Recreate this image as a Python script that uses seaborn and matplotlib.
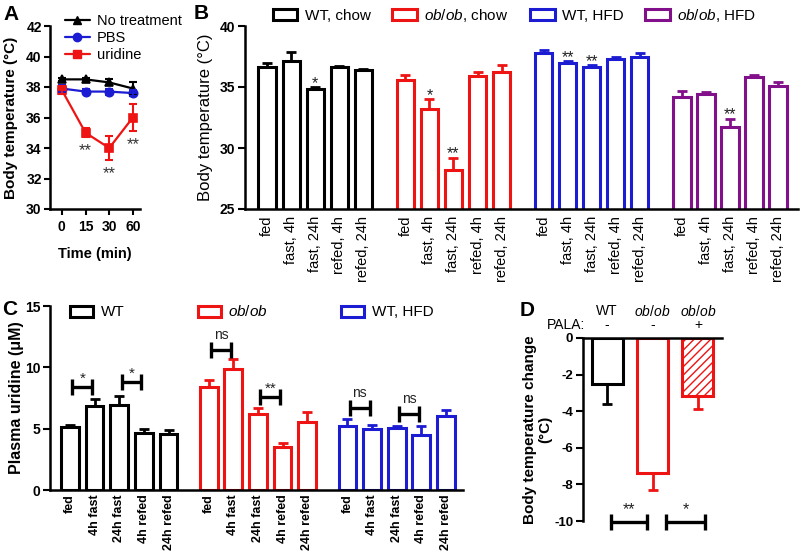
import numpy as np
import pandas as pd
import matplotlib
matplotlib.use("Agg")
import matplotlib.pyplot as plt
from matplotlib.patches import Patch
from matplotlib.lines import Line2D
import seaborn as sns

sns.set_theme(style="ticks")
plt.rcParams.update({
    "font.family": ["Liberation Sans", "DejaVu Sans"],
    "mathtext.fontset": "custom",
    "mathtext.rm": "Liberation Sans",
    "mathtext.it": "Liberation Sans:italic",
    "mathtext.bf": "Liberation Sans:bold",
    "axes.linewidth": 1.8,
    "axes.edgecolor": "black",
    "xtick.color": "black",
    "ytick.color": "black",
    "text.color": "black",
    "axes.labelcolor": "black",
    "hatch.linewidth": 1.0,
})

# Panel A: body temperature after injection
a_times = ["0", "15", "30", "60"]
a_groups = ["No treatment", "PBS", "uridine"]
a_no_treat = [38.5, 38.5, 38.3, 37.9]
a_no_treat_err = [0.1, 0.1, 0.2, 0.4]
a_pbs = [37.9, 37.7, 37.7, 37.6]
a_pbs_err = [0.2, 0.15, 0.2, 0.2]
a_uridine = [37.8, 35.0, 34.0, 36.0]
a_uridine_err = [0.25, 0.3, 0.8, 0.9]
a_stars = ["", "**", "**", "**"]

# Panel B: body temperature, fasting / refeeding
b_conditions = ["fed", "fast, 4h", "fast, 24h", "refed, 4h", "refed, 24h"]
b_groups = ["WT, chow", r"$\mathit{ob/ob}$, chow", "WT, HFD", r"$\mathit{ob/ob}$, HFD"]
b_wt_chow = [36.65, 37.1, 34.8, 36.6, 36.4]
b_wt_chow_err = [0.33, 0.77, 0.17, 0.1, 0.1]
b_ob_chow = [35.6, 33.2, 28.2, 35.9, 36.2]
b_ob_chow_err = [0.4, 0.8, 1.0, 0.35, 0.6]
b_wt_hfd = [37.8, 36.95, 36.6, 37.3, 37.5]
b_wt_hfd_err = [0.2, 0.15, 0.2, 0.2, 0.3]
b_ob_hfd = [34.15, 34.4, 31.75, 35.8, 35.1]
b_ob_hfd_err = [0.55, 0.2, 0.65, 0.15, 0.3]
b_stars = [["", "", "*", "", ""],
           ["", "*", "**", "", ""],
           ["", "**", "**", "", ""],
           ["", "", "**", "", ""]]

# Panel C: plasma uridine
c_conditions = ["fed", "4h fast", "24h fast", "4h refed", "24h refed"]
c_groups = ["WT", r"$\mathit{ob/ob}$", "WT, HFD"]
c_wt = [5.1, 6.85, 6.93, 4.67, 4.54]
c_wt_err = [0.2, 0.55, 0.73, 0.33, 0.36]
c_ob = [8.37, 9.9, 6.2, 3.5, 5.54]
c_ob_err = [0.63, 0.75, 0.5, 0.36, 0.82]
c_hfd = [5.2, 4.97, 5.05, 4.46, 6.03]
c_hfd_err = [0.56, 0.33, 0.15, 0.74, 0.47]

# Panel D: body temperature change with PALA
d_strain = ["WT", r"$\mathit{ob/ob}$", r"$\mathit{ob/ob}$"]
d_pala = ["-", "-", "+"]
d_change = [-2.5, -7.36, -3.18]
d_err = [1.09, 0.94, 0.72]

BLACK = "black"
RED = "#ee1414"
BLUE = "#1c1cd2"
PURPLE = "#82108a"

fig = plt.figure(figsize=(8, 5.6), dpi=100)


def px_axes(left, top, right, bottom):
    return fig.add_axes([left / 800, 1 - bottom / 560,
                         (right - left) / 800, (bottom - top) / 560])


def bracket(ax, x0, x1, y, half, label, dy, lw=2.2, size=11):
    ax.plot([x0, x0], [y - half, y + half], color="black", lw=lw, clip_on=False, solid_capstyle="butt")
    ax.plot([x1, x1], [y - half, y + half], color="black", lw=lw, clip_on=False, solid_capstyle="butt")
    ax.plot([x0, x1], [y, y], color="black", lw=lw, clip_on=False, solid_capstyle="butt")
    ax.annotate(label, ((x0 + x1) / 2, y + half), xytext=(0, dy), textcoords="offset points",
                ha="center", va="baseline", fontsize=size, color="#222222", annotation_clip=False)


# ---------------- A ----------------
ax_a = px_axes(50, 26, 140, 209)
a_colors = [BLACK, BLUE, RED]
df_a = pd.DataFrame({
    "time": a_times * 3,
    "temp": a_no_treat + a_pbs + a_uridine,
    "group": np.repeat(a_groups, len(a_times)),
})
sns.pointplot(data=df_a, x="time", y="temp", hue="group", palette=a_colors,
              markers=["^", "o", "s"], linestyles="-", errorbar=None,
              markersize=6, linewidth=1.6, legend=False, ax=ax_a)
for vals, errs, c in zip([a_no_treat, a_pbs, a_uridine],
                         [a_no_treat_err, a_pbs_err, a_uridine_err], a_colors):
    ax_a.errorbar(range(len(a_times)), vals, yerr=errs, fmt="none", ecolor=c,
                  elinewidth=1.5, capsize=3, capthick=1.5)
for i, s in enumerate(a_stars):
    if s:
        ax_a.annotate(s, (i, a_uridine[i] - a_uridine_err[i]), xytext=(0, -13),
                      textcoords="offset points", ha="center", va="baseline",
                      fontsize=12, color="#333333")
ax_a.set_ylim(30, 42)
ax_a.set_xlim(-0.5, 3.3)
ax_a.set_yticks(range(30, 43, 2), [str(t) for t in range(30, 43, 2)], fontweight="bold", fontsize=10)
ax_a.set_xticks(range(len(a_times)), a_times, fontweight="bold", fontsize=10)
ax_a.tick_params(length=4, width=1.5, pad=2)
ax_a.tick_params(axis="x", pad=4)
ax_a.set_xlabel("Time (min)", fontweight="bold", fontsize=10.5, labelpad=9)
ax_a.set_ylabel("Body temperature (°C)", fontweight="bold", fontsize=11)
ax_a.yaxis.set_label_coords(-0.35, 0.5)
sns.despine(ax=ax_a)
a_handles = [Line2D([0], [0], color=c, marker=m, markersize=6, linewidth=1.6)
             for c, m in zip(a_colors, ["^", "o", "s"])]
ax_a.legend(a_handles, a_groups, loc="upper left", bbox_to_anchor=(65 / 800, 1 - 14 / 560),
            bbox_transform=fig.transFigure, frameon=False, fontsize=10.5,
            handlelength=1.7, handletextpad=0.5, labelspacing=0.2,
            borderpad=0, borderaxespad=0)

# ---------------- B ----------------
ax_b = px_axes(245, 26, 798, 209)
b_colors = [BLACK, RED, BLUE, PURPLE]
b_gap = 5.75
rows = []
for g, (name, vals, errs) in enumerate(zip(b_groups,
                                            [b_wt_chow, b_ob_chow, b_wt_hfd, b_ob_hfd],
                                            [b_wt_chow_err, b_ob_chow_err, b_wt_hfd_err, b_ob_hfd_err])):
    for i, (cond, v, e) in enumerate(zip(b_conditions, vals, errs)):
        rows.append({"group": name, "cond": cond, "pos": g * b_gap + i, "temp": v, "err": e})
df_b = pd.DataFrame(rows)
sns.barplot(data=df_b, x="pos", y="temp", hue="group", palette=b_colors, native_scale=True,
            fill=False, width=0.72, linewidth=2.2, dodge=False, errorbar=None,
            legend=False, ax=ax_b)
for g, name in enumerate(b_groups):
    sub = df_b[df_b["group"] == name]
    ax_b.errorbar(sub["pos"], sub["temp"], yerr=[np.zeros(len(sub)), sub["err"]], fmt="none",
                  ecolor=b_colors[g], elinewidth=2, capsize=3.6, capthick=2)
    for i, s in enumerate(b_stars[g]):
        if s:
            r = sub.iloc[i]
            ax_b.annotate(s, (r["pos"], r["temp"] + r["err"]), xytext=(0, -0.5),
                          textcoords="offset points", ha="center", va="baseline",
                          fontsize=11.5, color="#222222")
ax_b.set_ylim(25, 40)
ax_b.set_xlim(-0.92, 3 * b_gap + 4 + 0.83)
ax_b.set_yticks([25, 30, 35, 40], ["25", "30", "35", "40"], fontweight="bold", fontsize=10)
ax_b.set_xticks(df_b["pos"], df_b["cond"], rotation=90, fontsize=10.5)
ax_b.tick_params(axis="y", length=5, width=1.5, pad=2)
ax_b.tick_params(axis="x", length=0, pad=5)
ax_b.set_xlabel("")
ax_b.set_ylabel("Body temperature (°C)", fontsize=12)
ax_b.yaxis.set_label_coords(-0.058, 0.5)
sns.despine(ax=ax_b)
b_handles = [Patch(facecolor="white", edgecolor=c, linewidth=2.2) for c in b_colors]
ax_b.legend(b_handles, b_groups, loc="center left", bbox_to_anchor=(273 / 800, 1 - 15 / 560),
            bbox_transform=fig.transFigure, ncol=4, frameon=False, fontsize=11,
            handlelength=1.6, handleheight=0.7, handletextpad=0.5, columnspacing=1.4,
            borderpad=0, borderaxespad=0)

# ---------------- C ----------------
ax_c = px_axes(50, 306, 463, 490)
c_colors = [BLACK, RED, BLUE]
c_gap = 5.63
rows = []
for g, (name, vals, errs) in enumerate(zip(c_groups, [c_wt, c_ob, c_hfd],
                                            [c_wt_err, c_ob_err, c_hfd_err])):
    for i, (cond, v, e) in enumerate(zip(c_conditions, vals, errs)):
        rows.append({"group": name, "cond": cond, "pos": g * c_gap + i, "uridine": v, "err": e})
df_c = pd.DataFrame(rows)
sns.barplot(data=df_c, x="pos", y="uridine", hue="group", palette=c_colors, native_scale=True,
            fill=False, width=0.72, linewidth=2.2, dodge=False, errorbar=None,
            legend=False, ax=ax_c)
for g, name in enumerate(c_groups):
    sub = df_c[df_c["group"] == name]
    ax_c.errorbar(sub["pos"], sub["uridine"], yerr=[np.zeros(len(sub)), sub["err"]], fmt="none",
                  ecolor=c_colors[g], elinewidth=2, capsize=3.6, capthick=2)
# significance brackets: (group, first condition, y, label)
for g, i, y, lab in [(0, 0, 8.4, "*"), (0, 2, 8.8, "*"), (1, 0, 11.45, "ns"),
                     (1, 2, 7.6, "**"), (2, 0, 6.72, "ns"), (2, 2, 6.2, "ns")]:
    x0 = g * c_gap + i + 0.1
    bracket(ax_c, x0, x0 + 0.8, y, 0.65, lab, 2 if lab == "ns" else -3, lw=2.4,
            size=10 if lab == "ns" else 11)
ax_c.set_ylim(0, 15)
ax_c.set_xlim(-0.81, 2 * c_gap + 4 + 0.69)
ax_c.set_yticks([0, 5, 10, 15], ["0", "5", "10", "15"], fontweight="bold", fontsize=10)
ax_c.set_xticks(df_c["pos"], df_c["cond"], rotation=90, fontsize=9, fontweight="bold")
ax_c.tick_params(axis="y", length=5, width=1.5, pad=2)
ax_c.tick_params(axis="x", length=0, pad=3)
ax_c.set_xlabel("")
ax_c.set_ylabel("Plasma uridine (μM)", fontsize=11.5, fontweight="bold")
ax_c.yaxis.set_label_coords(-0.063, 0.5)
sns.despine(ax=ax_c)
c_handles = [Patch(facecolor="white", edgecolor=c, linewidth=2.2) for c in c_colors]
ax_c.legend(c_handles, c_groups, loc="center left", bbox_to_anchor=(70 / 800, 1 - 312 / 560),
            bbox_transform=fig.transFigure, ncol=3, frameon=False, fontsize=11,
            handlelength=1.5, handleheight=0.7, handletextpad=0.5, columnspacing=4.8,
            borderpad=0, borderaxespad=0)

# ---------------- D ----------------
ax_d = px_axes(583, 338, 722, 521)
d_cond = [f"{s} {p}" for s, p in zip(["WT", "ob", "obP"], d_pala)]
df_d = pd.DataFrame({"cond": d_cond, "change": d_change})
d_colors = [BLACK, RED, RED]
sns.barplot(data=df_d, x="cond", y="change", hue="cond", palette=d_colors, fill=False,
            width=0.68, linewidth=2.2, errorbar=None, legend=False, ax=ax_d)
ax_d.patches[2].set_hatch("////")
for i, (v, e, c) in enumerate(zip(d_change, d_err, d_colors)):
    ax_d.errorbar([i], [v], yerr=[[e], [0]], fmt="none", ecolor=c,
                  elinewidth=2, capsize=3.6, capthick=2)
for x0, x1, lab in [(0.09, 0.88, "**"), (1.3, 2.15, "*")]:
    bracket(ax_d, x0, x1, -10.05, 0.44, lab, -0.5, lw=2.4, size=11.5)
ax_d.set_ylim(-10, 0)
ax_d.set_xlim(-0.53, 2.53)
ax_d.set_yticks(range(-10, 1, 2), [str(t) for t in range(-10, 1, 2)], fontweight="bold", fontsize=9.5)
ax_d.tick_params(axis="y", length=5, width=1.5, pad=2)
ax_d.tick_params(axis="x", length=0, labelbottom=False)
ax_d.set_xlabel("")
ax_d.spines["right"].set_visible(False)
ax_d.spines["bottom"].set_visible(False)
ax_d.spines["top"].set_visible(True)
ax_d.set_ylabel("Body temperature change\n(°C)", fontsize=11, fontweight="bold", linespacing=1.1)
ax_d.yaxis.set_label_coords(-0.22, 0.5)
trans = matplotlib.transforms.blended_transform_factory(ax_d.transData, ax_d.transAxes)
for i, (s, p) in enumerate(zip(d_strain, d_pala)):
    ax_d.text(i, 1.1475, s, transform=trans, ha="center", va="center", fontsize=10)
    ax_d.text(i, 1.071, p, transform=trans, ha="center", va="center", fontsize=10)
ax_d.text(0.014, 1.071, "PALA:", transform=ax_d.transAxes, ha="right", va="center", fontsize=10)

# panel letters
for lab, x, y in [("A", 3, 5), ("B", 194, 4), ("C", 2, 300), ("D", 520, 301)]:
    fig.text(x / 800, 1 - y / 560, lab, fontsize=15, fontweight="bold", ha="left", va="top")

fig.savefig("out.png", dpi=100)
